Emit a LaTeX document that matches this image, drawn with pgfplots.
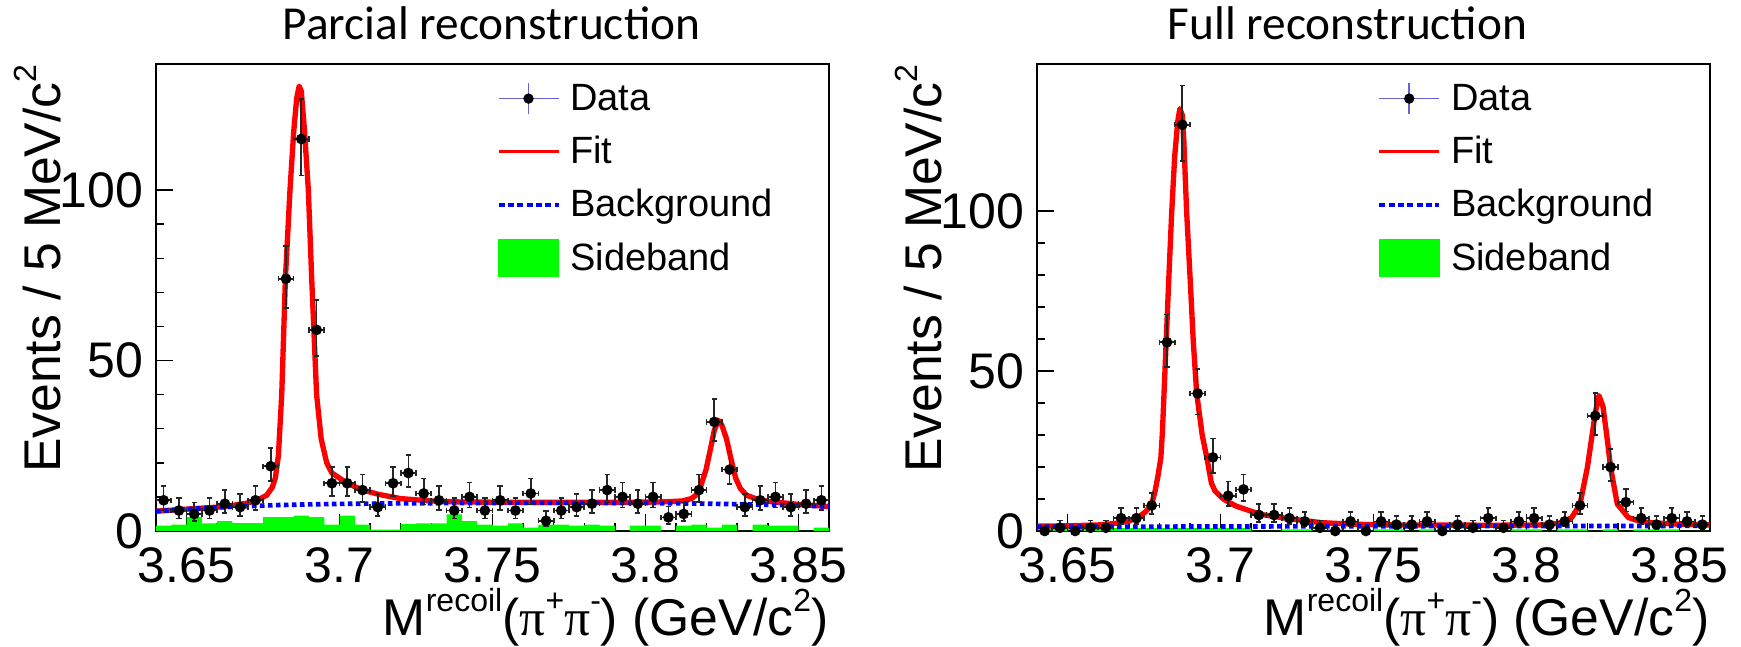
\documentclass[border=0pt]{standalone}
\usepackage{fontspec}
\setmainfont{Liberation Sans}
\newfontfamily\titlefont{Carlito}
\newfontfamily\greekfont{Liberation Serif}
\usepackage{pgfplots}
\usepackage{pgfplotstable}
\pgfplotsset{compat=1.18}

\definecolor{fitred}{RGB}{255,0,0}
\definecolor{bkgblue}{RGB}{0,0,255}
\definecolor{sbgreen}{RGB}{0,255,0}
\definecolor{legblue}{RGB}{100,100,210}

% small raised text for the axis titles
\newcommand{\up}[1]{\raisebox{0.46em}{\fontsize{9.6pt}{9.6pt}\selectfont #1}}
\newcommand{\gpi}{{\greekfont π}}

% ---------- partial reconstruction ----------
% bin centre, events, lower and upper Poisson errors
\pgfplotstableread{
x n em ep
3.6425 9 2.94 4.11
3.6475 6 2.38 3.58
3.6525 5 2.16 3.38
3.6575 6 2.38 3.58
3.6625 8 2.77 3.95
3.6675 7 2.58 3.77
3.6725 9 2.94 4.11
3.6775 19 4.33 5.44
3.6825 74 8.59 9.64
3.6875 115 10.71 11.76
3.6925 59 7.66 8.73
3.6975 14 3.70 4.83
3.7025 14 3.70 4.83
3.7075 12 3.41 4.56
3.7125 7 2.58 3.77
3.7175 14 3.70 4.83
3.7225 17 4.09 5.20
3.7275 11 3.27 4.42
3.7325 9 2.94 4.11
3.7375 6 2.38 3.58
3.7425 10 3.11 4.27
3.7475 6 2.38 3.58
3.7525 9 2.94 4.11
3.7575 6 2.38 3.58
3.7625 11 3.27 4.42
3.7675 3 1.63 2.92
3.7725 6 2.38 3.58
3.7775 7 2.58 3.77
3.7825 8 2.77 3.95
3.7875 12 3.41 4.56
3.7925 10 3.11 4.27
3.7975 8 2.77 3.95
3.8025 10 3.11 4.27
3.8075 4 1.91 3.16
3.8125 5 2.16 3.38
3.8175 12 3.41 4.56
3.8225 32 5.63 6.72
3.8275 18 4.21 5.32
3.8325 7 2.58 3.77
3.8375 9 2.94 4.11
3.8425 10 3.11 4.27
3.8475 7 2.58 3.77
3.8525 8 2.77 3.95
3.8575 9 2.94 4.11
}\partdata

% sideband histogram, left bin edges
\pgfplotstableread{
x s
3.640 1.6
3.645 1.9
3.650 4.1
3.655 2.2
3.660 2.9
3.665 2.3
3.670 2.3
3.675 4.1
3.680 4.1
3.685 4.5
3.690 4.1
3.695 1.9
3.700 4.5
3.705 1.9
3.710 0.4
3.715 0.4
3.720 2.0
3.725 2.2
3.730 2.2
3.735 4.9
3.740 2.9
3.745 1.9
3.750 1.6
3.755 2.2
3.760 1.0
3.765 1.9
3.770 1.9
3.775 1.6
3.780 1.9
3.785 1.6
3.790 0
3.795 1.6
3.800 1.6
3.805 0
3.810 1.6
3.815 1.9
3.820 1.0
3.825 1.9
3.830 0
3.835 1.9
3.840 1.6
3.845 1.6
3.850 0
3.855 1.0
3.860 1.0
}\partside

\pgfplotstableread{
x y
3.640 5.8
3.650 6.4
3.660 7.0
3.665 7.5
3.670 8.2
3.6735 9.2
3.6762 10.5
3.678 12.8
3.679 15.5
3.680 22
3.6811 40
3.6823 74
3.6838 100
3.685 117
3.686 127
3.6868 130.5
3.6875 129
3.6885 118
3.6898 100
3.6909 74
3.6925 40
3.694 27
3.6958 20
3.6975 17
3.7025 14
3.7075 12
3.713 10.7
3.720 9.5
3.730 8.8
3.740 8.5
3.760 8.4
3.790 8.4
3.805 8.5
3.812 8.8
3.815 9.5
3.8165 10.5
3.818 13
3.8198 18
3.821 23
3.8225 29.5
3.8238 32.5
3.825 31
3.8265 27
3.828 21
3.8295 15.5
3.831 12.5
3.833 10.5
3.836 9.5
3.840 8.7
3.850 7.8
3.860 7.2
}\partfit

\pgfplotstableread{
x y
3.640 5.8
3.650 6.4
3.660 6.9
3.670 7.3
3.680 7.6
3.690 7.8
3.700 7.95
3.720 8.1
3.740 8.2
3.760 8.25
3.780 8.25
3.800 8.2
3.820 8.0
3.840 7.7
3.860 7.2
}\partbkg

% ---------- full reconstruction ----------
\pgfplotstableread{
x n em ep
3.6425 0 0 0
3.6475 1 0.83 2.30
3.6525 0 0 0
3.6575 1 0.83 2.30
3.6625 1 0.83 2.30
3.6675 4 1.91 3.16
3.6725 4 1.91 3.16
3.6775 8 2.77 3.95
3.6825 59 7.66 8.73
3.6875 127 11.26 12.30
3.6925 43 6.54 7.61
3.6975 23 4.77 5.87
3.7025 11 3.27 4.42
3.7075 13 3.56 4.70
3.7125 5 2.16 3.38
3.7175 5 2.16 3.38
3.7225 4 1.91 3.16
3.7275 3 1.63 2.92
3.7325 1 0.83 2.30
3.7375 0 0 0
3.7425 3 1.63 2.92
3.7475 0 0 0
3.7525 3 1.63 2.92
3.7575 2 1.29 2.64
3.7625 2 1.29 2.64
3.7675 3 1.63 2.92
3.7725 0 0 0
3.7775 2 1.29 2.64
3.7825 1 0.83 2.30
3.7875 4 1.91 3.16
3.7925 1 0.83 2.30
3.7975 3 1.63 2.92
3.8025 4 1.91 3.16
3.8075 2 1.29 2.64
3.8125 3 1.63 2.92
3.8175 8 2.77 3.95
3.8225 36 5.98 7.06
3.8275 20 4.44 5.56
3.8325 9 2.94 4.11
3.8375 4 1.91 3.16
3.8425 2 1.29 2.64
3.8475 4 1.91 3.16
3.8525 3 1.63 2.92
3.8575 2 1.29 2.64
}\fulldata

\pgfplotstableread{
x s
3.640 0.9
3.645 0.9
3.650 0.9
3.655 0.9
3.660 0.9
3.665 0.9
3.670 0.9
3.675 0.9
3.680 0.9
3.685 0.9
3.690 0.9
3.695 0.9
3.700 0.9
3.705 0.9
3.710 0
3.715 0
3.720 0.5
3.725 0.5
3.730 0
3.735 0.5
3.740 0
3.745 0
3.750 0.5
3.755 0.5
3.760 0
3.765 0.5
3.770 0
3.775 0
3.780 0
3.785 0
3.790 0
3.795 0.5
3.800 0.5
3.805 0
3.810 0.5
3.815 0.5
3.820 0
3.825 0.5
3.830 0
3.835 0.5
3.840 0.5
3.845 0.5
3.850 0
3.855 0
3.860 0
}\fullside

\pgfplotstableread{
x y
3.640 1.5
3.650 1.6
3.660 1.9
3.665 2.3
3.670 3.1
3.673 4.2
3.6755 6.0
3.6775 8.4
3.6786 12.5
3.6795 17
3.6805 23
3.681 31
3.682 54
3.683 77
3.684 99
3.685 117
3.686 128
3.6867 132
3.6875 130
3.688 122
3.6889 100
3.690 80
3.6911 59
3.6922 43
3.694 30
3.6955 23
3.697 15
3.6982 12.5
3.7009 10.0
3.705 7.8
3.713 5.2
3.722 3.9
3.733 2.6
3.744 2.1
3.755 1.9
3.790 1.8
3.805 1.9
3.810 2.3
3.812 2.8
3.8148 4.2
3.8175 8.4
3.8199 19.8
3.821 27
3.8225 37
3.8237 42.3
3.825 39
3.8265 28
3.8275 19.8
3.8297 8.4
3.8333 4.2
3.8365 3.2
3.8404 2.6
3.850 2.1
3.860 1.9
}\fullfit

\pgfplotstableread{
x y
3.640 1.3
3.700 1.4
3.760 1.5
3.820 1.55
3.860 1.6
}\fullbkg

\pgfplotsset{
  rootframe/.style={
    scale only axis, width=201.9pt, height=140.1pt,
    anchor=south west,
    xmin=3.64, xmax=3.86, ymin=0,
    xtick={3.65,3.7,3.75,3.8,3.85},
    xticklabels={3.65,3.7,3.75,3.8,3.85},
    ytick={0,50,100},
    minor x tick num=4, minor y tick num=4,
    tick align=inside, xtick pos=left, ytick pos=left,
    major tick length=5pt, minor tick length=2.5pt,
    axis line style={line width=0.45pt},
    every tick/.style={line width=0.45pt, black},
    /pgf/number format/assume math mode=true,
    ticklabel style={font=\fontsize{15}{15}\selectfont, inner sep=0pt},
    xticklabel style={anchor=north, yshift=-4.8pt},
    yticklabel style={anchor=east, xshift=-3.6pt},
    xlabel={M\up{recoil}(\gpi\up{+}\gpi\up{-}) (GeV/c\up{2})},
    ylabel={Events / 5 MeV/c\up{2}},
    xlabel style={at={(axis description cs:1,-0.224)}, anchor=base east,
      font=\fontsize{15.5}{15.5}\selectfont, inner sep=0pt},
    ylabel style={at={(axis description cs:-0.142,1)}, anchor=base east,
      font=\fontsize{15.5}{15.5}\selectfont, inner sep=0pt},
    every axis title shift=0pt,
    title style={font=\titlefont\fontsize{14.2}{14.2}\selectfont, anchor=base, inner sep=0pt},
    legend style={draw=none, fill=none, inner sep=0pt, anchor=north west,
      font=\fontsize{11.4}{11.4}\selectfont, row sep=4.15pt,
      nodes={inner sep=0pt, text height=0.95em, text depth=0.23em},
      cells={anchor=west},
      /tikz/every odd column/.style={column sep=3pt}},
  },
  datastyle/.style={only marks, mark=*, mark size=1.4pt, black,
    mark options={draw=black, fill=black},
    error bars/.cd, x dir=both, x fixed=0.0025, y dir=both, y explicit,
    error bar style={line width=0.5pt, black!85},
    error mark options={rotate=90, mark size=0.8pt, line width=0.5pt, black!85},
    /pgfplots/.cd},
  fitstyle/.style={fitred, line width=1.6pt, line join=round, no marks},
  bkgstyle/.style={bkgblue, line width=1.4pt, no marks, dash pattern=on 1.4pt off 1pt},
  sidestyle/.style={fill=sbgreen, draw=none, const plot mark left, no marks},
}

\newcommand{\rootlegend}{%
  \addlegendimage{legend image code/.code={
    \draw[legblue, line width=0.45pt] (0pt,0pt)--(18pt,0pt);
    \draw[legblue, line width=0.45pt] (9pt,-4.65pt)--(9pt,4.65pt);
    \fill[black] (9pt,0pt) circle (1.35pt);}}
  \addlegendentry{Data}
  \addlegendimage{legend image code/.code={
    \draw[fitred, line width=0.9pt] (0pt,0pt)--(18pt,0pt);}}
  \addlegendentry{Fit}
  \addlegendimage{legend image code/.code={
    \draw[bkgblue, line width=1.1pt, dash pattern=on 1.8pt off 1pt] (0pt,0pt)--(18pt,0pt);}}
  \addlegendentry{Background}
  \addlegendimage{legend image code/.code={
    \fill[sbgreen] (0pt,-5.5pt) rectangle (18pt,5.5pt);}}
  \addlegendentry{Sideband}%
}

\begin{document}
\begin{tikzpicture}
\useasboundingbox (0pt,0pt) rectangle (522.3pt,194.1pt);

\begin{axis}[rootframe, at={(46.8pt,34.8pt)}, ymax=137,
  title={Parcial reconstruction},
  title style={at={(axis description cs:0.4985,1)}, yshift=7.2pt},
  legend style={at={(axis description cs:0.5052,0.9694)}}]
  \rootlegend
  \addplot[forget plot, sidestyle] table[x=x, y=s] {\partside} \closedcycle;
  \addplot[forget plot, fitstyle] table[x=x, y=y] {\partfit};
  \addplot[forget plot, bkgstyle] table[x=x, y=y] {\partbkg};
  \addplot[forget plot, datastyle] table[x=x, y=n, y error minus=em, y error plus=ep] {\partdata};
\end{axis}

\begin{axis}[rootframe, at={(311.1pt,34.8pt)}, ymax=146,
  title={Full reconstruction},
  title style={at={(axis description cs:0.4614,1)}, yshift=7.2pt},
  legend style={at={(axis description cs:0.5048,0.9694)}}]
  \rootlegend
  \addplot[forget plot, sidestyle] table[x=x, y=s] {\fullside} \closedcycle;
  \addplot[forget plot, fitstyle] table[x=x, y=y] {\fullfit};
  \addplot[forget plot, bkgstyle] table[x=x, y=y] {\fullbkg};
  \addplot[forget plot, datastyle] table[x=x, y=n, y error minus=em, y error plus=ep] {\fulldata};
\end{axis}
\end{tikzpicture}
\end{document}
